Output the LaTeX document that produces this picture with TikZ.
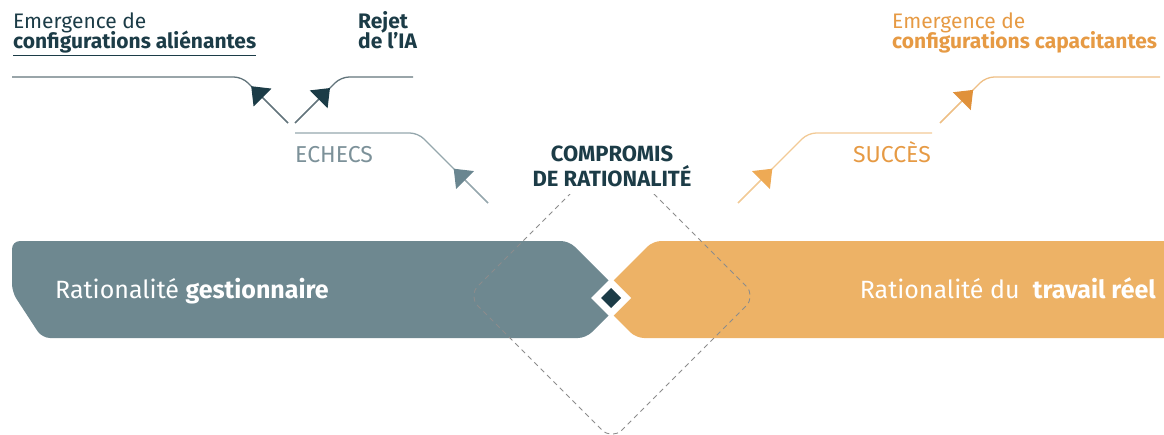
\documentclass[tikz,border=0pt]{standalone}
\usepackage{fontspec}
\setmainfont{Fira Sans}
\usetikzlibrary{arrows.meta}
\usetikzlibrary{calc}
\definecolor{gestion}{HTML}{6E8890}
\definecolor{travail}{HTML}{EDB266}
\definecolor{sombre}{HTML}{1C3C47}
\definecolor{ligne}{HTML}{62747B}
\definecolor{echec}{HTML}{95A7AD}
\definecolor{echecpt}{HTML}{6A8690}
\definecolor{echectxt}{HTML}{7C9199}
\definecolor{orclair}{HTML}{F2CA96}
\definecolor{orligne}{HTML}{EEBF85}
\definecolor{orsucc}{HTML}{EEAA55}
\definecolor{orfonce}{HTML}{E0913A}
\definecolor{ortxt}{HTML}{E69A44}
\newcommand{\souligne}[1]{\setbox0\hbox{#1}\rlap{\vrule height -6.8pt depth 8.2pt width \wd0}\box0}

\begin{document}
\begin{tikzpicture}[x=1pt,y=-1pt,
    txt/.style={inner sep=0pt,anchor=base west,font=\fontsize{21}{25}\selectfont},
    bande/.style={inner sep=0pt,text=white,font=\fontsize{25}{30}\selectfont},
    trait/.style={line width=1.3pt,rounded corners=8pt}]
  \useasboundingbox (0,0) rectangle (1164,434);

  \fill[gestion,rounded corners=8pt] (12,241) -- (569,241) -- (626,298) -- (586,338)
    -- (42,338) -- (12,292) -- cycle;
  \fill[travail,rounded corners=8pt] (1180,241) -- (653,241) -- (596,298) -- (636,338)
    -- (1180,338) -- cycle;
  \fill[white] (611,278) -- (631,298) -- (611,318) -- (591,298) -- cycle;
  \fill[sombre] (611,288) -- (621,298) -- (611,308) -- (601,298) -- cycle;

  \draw[black!45,line width=0.9pt,dash pattern=on 5pt off 4pt,rounded corners=14pt]
    (612,152) -- (756,296) -- (612,440) -- (468,296) -- cycle;

  \node[bande,anchor=base west] (rgest) at (55,298) {Rationalité \textbf{gestionnaire}};
  \node[bande,anchor=base east] (rtrav) at (1156,298) {Rationalité du~ \textbf{travail réel}};

  \node[fill=white,inner sep=7pt,align=center,text=sombre,
    font=\bfseries\fontsize{22}{25}\selectfont] (compromis) at (612,166)
    {COMPROMIS\\DE RATIONALITÉ};

  \coordinate (qA) at (288,123); \coordinate (cA) at (242,77); \coordinate (bA) at (12,77);
  \coordinate (qB) at (295,123); \coordinate (cB) at (341,77); \coordinate (bB) at (413,77);
  \coordinate (qE) at (488,203); \coordinate (cE) at (418,133); \coordinate (bE) at (295,133);
  \coordinate (qS) at (738,203); \coordinate (cS) at (808,133); \coordinate (bS) at (932,133);
  \coordinate (qC) at (940,123); \coordinate (cC) at (986,77); \coordinate (bC) at (1160,77);

  \foreach \q/\c/\b/\f/\lc/\hc in {qA/cA/bA/0.8/ligne/sombre, qB/cB/bB/0.76/ligne/sombre,
      qE/cE/bE/0.49/echec/echecpt, qS/cS/bS/0.49/orclair/orsucc, qC/cC/bC/0.72/orligne/orfonce}
  {
    \draw[trait,\lc] (\q) -- (\c) -- (\b);
    \draw[line width=1.3pt,\lc,-{Triangle[width=25pt,length=16pt,color=\hc]}]
      (\q) -- ($(\q)!\f!(\c)$);
  }

  \node[txt,text=sombre] (emergL) at (13,28) {Emergence de};
  \node[txt,text=sombre] (configL) at (13,48) {\souligne{\textbf{configurations aliénantes}}};
  \node[txt,text=sombre] (rejet) at (358,28) {\textbf{Rejet}};
  \node[txt,text=sombre] (ia) at (358,48) {\textbf{de l’IA}};
  \node[txt,text=echectxt,font=\fontsize{23}{27}\selectfont] (echecs) at (295,162) {ECHECS};
  \node[txt,text=ortxt,anchor=base east,font=\fontsize{23}{27}\selectfont] (succes) at (931,162) {SUCCÈS};
  \node[txt,text=ortxt] (emergR) at (892,28) {Emergence de};
  \node[txt,text=ortxt] (configR) at (892,48) {\textbf{configurations capacitantes}};
\end{tikzpicture}
\end{document}
